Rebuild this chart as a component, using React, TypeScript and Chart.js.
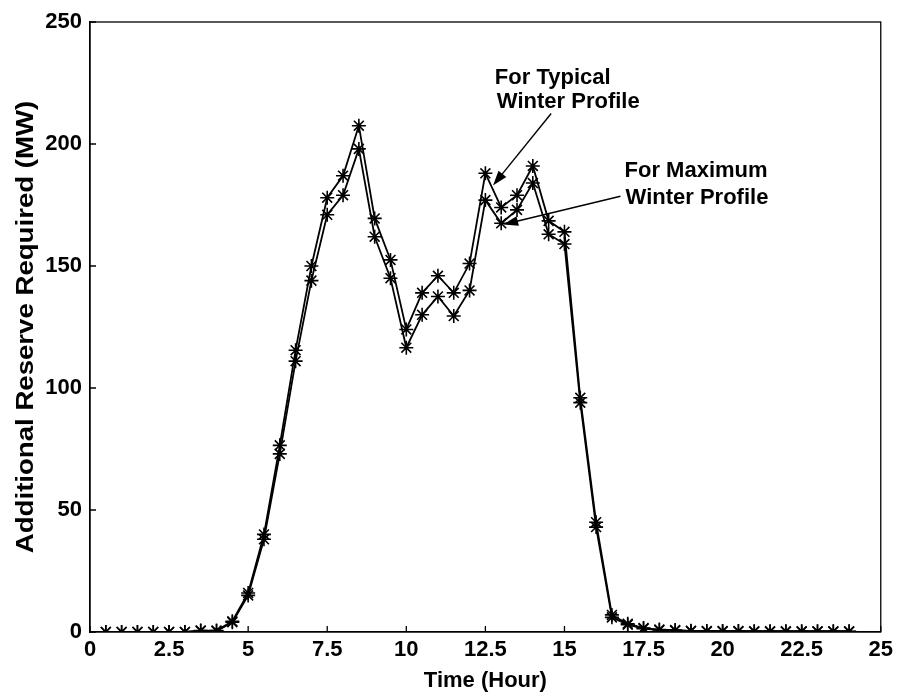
import React, { useEffect, useRef } from "react";
import { Chart, registerables } from "chart.js";

Chart.register(...registerables);

const hours: number[] = [
  0.5, 1, 1.5, 2, 2.5, 3, 3.5, 4, 4.5, 5, 5.5, 6, 6.5, 7, 7.5, 8, 8.5, 9, 9.5, 10,
  10.5, 11, 11.5, 12, 12.5, 13, 13.5, 14, 14.5, 15, 15.5, 16, 16.5, 17, 17.5, 18,
  18.5, 19, 19.5, 20, 20.5, 21, 21.5, 22, 22.5, 23, 23.5, 24,
];

const typicalWinter: number[] = [
  0, 0, 0, 0, 0, 0, 0.6, 0.6, 4.4, 16, 40, 76.5, 115.5, 150, 178, 187, 207.5, 169.5, 152.5, 124,
  139, 146, 139, 151, 188, 174, 179, 191, 168.5, 164, 96, 45, 7, 3.4, 1.6, 1, 0.8, 0.5, 0.4, 0.4,
  0.4, 0.3, 0.3, 0.3, 0.3, 0.3, 0.3, 0.3,
];

const maximumWinter: number[] = [
  0, 0, 0, 0, 0, 0, 0.5, 0.4, 4, 15, 38, 73, 111, 144, 171, 179, 198, 162, 145, 116.5,
  130, 137.5, 129.5, 140, 177, 167.5, 173, 184, 163, 159, 94, 43, 6, 3, 1.4, 0.8, 0.6, 0.4, 0.3, 0.3,
  0.3, 0.2, 0.2, 0.2, 0.2, 0.2, 0.2, 0.2,
];

const xTicks: number[] = [0, 2.5, 5, 7.5, 10, 12.5, 15, 17.5, 20, 22.5, 25];
const yTicks: number[] = [0, 50, 100, 150, 200, 250];

const xTitle = "Time (Hour)";
const yTitle = "Additional Reserve Required (MW)";
const typicalLabel: string[] = ["For Typical", "Winter Profile"];
const maximumLabel: string[] = ["For Maximum", "Winter Profile"];

const FONT = "'Liberation Sans', Arial, Helvetica, sans-serif";

function drawArrow(ctx: CanvasRenderingContext2D, x0: number, y0: number, x1: number, y1: number) {
  const ang = Math.atan2(y1 - y0, x1 - x0);
  const len = 15;
  const half = 5;
  ctx.beginPath();
  ctx.moveTo(x0, y0);
  ctx.lineTo(x1 - Math.cos(ang) * len * 0.8, y1 - Math.sin(ang) * len * 0.8);
  ctx.stroke();
  ctx.beginPath();
  ctx.moveTo(x1, y1);
  ctx.lineTo(
    x1 - Math.cos(ang) * len - Math.sin(ang) * half,
    y1 - Math.sin(ang) * len + Math.cos(ang) * half
  );
  ctx.lineTo(
    x1 - Math.cos(ang) * len + Math.sin(ang) * half,
    y1 - Math.sin(ang) * len - Math.cos(ang) * half
  );
  ctx.closePath();
  ctx.fill();
}

const decorPlugin = {
  id: "decor",
  afterDraw(chart: any) {
    const { ctx, chartArea, scales } = chart;
    const xs = scales.x;
    const ys = scales.y;
    ctx.save();
    ctx.strokeStyle = "#000";
    ctx.fillStyle = "#000";
    ctx.lineWidth = 1.3;
    ctx.strokeRect(chartArea.left, chartArea.top, chartArea.right - chartArea.left, chartArea.bottom - chartArea.top);
    // inward ticks
    const tl = 6;
    ctx.beginPath();
    xTicks.forEach((v) => {
      const px = xs.getPixelForValue(v);
      ctx.moveTo(px, chartArea.bottom);
      ctx.lineTo(px, chartArea.bottom - tl);
    });
    yTicks.forEach((v) => {
      const py = ys.getPixelForValue(v);
      ctx.moveTo(chartArea.left, py);
      ctx.lineTo(chartArea.left + tl, py);
    });
    ctx.stroke();

    // y-axis title (vertical, centred on the axis)
    ctx.save();
    ctx.translate(33, (chartArea.top + chartArea.bottom) / 2);
    ctx.rotate(-Math.PI / 2);
    ctx.scale(1.2, 1);
    ctx.font = `bold 23px ${FONT}`;
    ctx.textAlign = "center";
    ctx.textBaseline = "alphabetic";
    ctx.fillText(yTitle, 0, 0);
    ctx.restore();

    // annotations
    ctx.font = `bold 22px ${FONT}`;
    ctx.textAlign = "left";
    ctx.textBaseline = "middle";
    const t1x = xs.getPixelForValue(12.8);
    ctx.fillText(typicalLabel[0], t1x, ys.getPixelForValue(227));
    ctx.fillText(typicalLabel[1], t1x + 2, ys.getPixelForValue(217.2));
    const t2x = xs.getPixelForValue(16.9);
    ctx.fillText(maximumLabel[0], t2x, ys.getPixelForValue(189));
    ctx.fillText(maximumLabel[1], t2x + 1, ys.getPixelForValue(178));

    ctx.lineWidth = 1.4;
    drawArrow(
      ctx,
      xs.getPixelForValue(14.58), ys.getPixelForValue(212.5),
      xs.getPixelForValue(12.74), ys.getPixelForValue(183)
    );
    drawArrow(
      ctx,
      xs.getPixelForValue(16.77), ys.getPixelForValue(178.6),
      xs.getPixelForValue(13.06), ys.getPixelForValue(167)
    );
    ctx.restore();
  },
};

export default function App() {
  const ref = useRef<HTMLCanvasElement | null>(null);

  useEffect(() => {
    document.body.style.margin = "0";
    const canvas = ref.current;
    if (!canvas) return;
    const mk = (vals: number[]) => hours.map((h, i) => ({ x: h, y: vals[i] }));
    const dsStyle = {
      borderColor: "#000",
      backgroundColor: "#000",
      borderWidth: 1.8,
      pointStyle: "star" as const,
      pointRadius: 7,
      pointBorderWidth: 1.6,
      pointBorderColor: "#000",
      pointBackgroundColor: "#000",
      tension: 0,
      fill: false,
    };
    const chart = new Chart(canvas, {
      type: "line",
      data: {
        datasets: [
          { label: "For Typical Winter Profile", data: mk(typicalWinter), ...dsStyle },
          { label: "For Maximum Winter Profile", data: mk(maximumWinter), ...dsStyle },
        ],
      },
      options: {
        responsive: false,
        animation: false,
        layout: { padding: { top: 22, right: 16, left: 0, bottom: 0 } },
        plugins: {
          legend: { display: false },
          tooltip: { enabled: false },
        },
        scales: {
          x: {
            type: "linear",
            min: 0,
            max: 25,
            afterBuildTicks: (s: any) => {
              s.ticks = xTicks.map((v) => ({ value: v }));
            },
            afterFit: (s: any) => {
              s.height = 62;
            },
            ticks: {
              color: "#000",
              font: { family: FONT, size: 22, weight: "bold" },
              padding: 5,
              maxRotation: 0,
              autoSkip: false,
              callback: (v: any) => String(v),
            },
            grid: { display: false, drawTicks: false },
            border: { display: true, color: "#000", width: 1.3 },
            title: {
              display: true,
              text: xTitle,
              color: "#000",
              font: { family: FONT, size: 22, weight: "bold" },
              padding: { top: 0, bottom: 0 },
            },
          },
          y: {
            type: "linear",
            min: 0,
            max: 250,
            afterBuildTicks: (s: any) => {
              s.ticks = yTicks.map((v) => ({ value: v }));
            },
            afterFit: (s: any) => {
              s.width = 90;
            },
            ticks: {
              color: "#000",
              font: { family: FONT, size: 22, weight: "bold" },
              padding: 8,
              autoSkip: false,
              callback: (v: any) => String(v),
            },
            grid: { display: false, drawTicks: false },
            border: { display: true, color: "#000", width: 1.3 },
            title: { display: false },
          },
        },
      },
      plugins: [decorPlugin],
    });
    return () => chart.destroy();
  }, []);

  return (
    <div style={{ position: "absolute", left: 0, top: 0, width: 898, height: 694, background: "#fff" }}>
      <canvas ref={ref} width={898} height={694} />
    </div>
  );
}
